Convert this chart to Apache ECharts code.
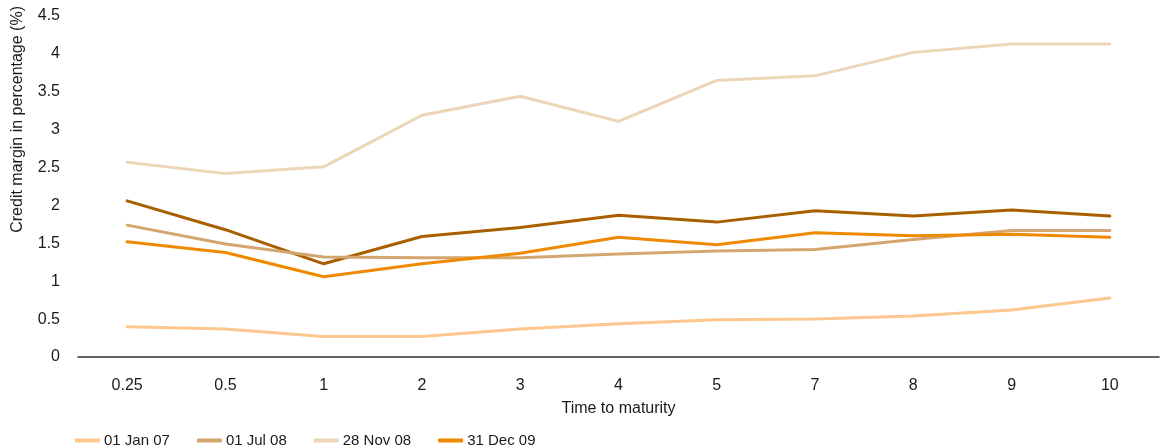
<!DOCTYPE html>
<html>
<head>
<meta charset="utf-8">
<script src="https://cdn.jsdelivr.net/npm/echarts@6/dist/echarts.min.js"></script>
<style>
  html, body { margin: 0; padding: 0; background: #fff; }
  #chart { width: 1160px; height: 447px; }
</style>
</head>
<body>
<div id="chart"></div>
<script>
// Time to maturity (years)
const maturities = ['0.25', '0.5', '1', '2', '3', '4', '5', '7', '8', '9', '10'];

// Credit margin (%) per curve date
const jan07 = [0.40, 0.37, 0.27, 0.27, 0.37, 0.44, 0.49, 0.50, 0.54, 0.62, 0.78];
const jul08 = [1.74, 1.49, 1.32, 1.31, 1.31, 1.36, 1.40, 1.42, 1.55, 1.67, 1.67];
const nov08 = [2.57, 2.42, 2.51, 3.19, 3.44, 3.11, 3.65, 3.71, 4.02, 4.13, 4.13];
const dec09 = [1.52, 1.38, 1.06, 1.23, 1.37, 1.58, 1.48, 1.64, 1.60, 1.62, 1.58];
const extraCurve = [2.06, 1.68, 1.23, 1.59, 1.71, 1.87, 1.78, 1.93, 1.86, 1.94, 1.86];

const yTicks = [0, 0.5, 1, 1.5, 2, 2.5, 3, 3.5, 4, 4.5];

const font = '"Liberation Sans", Arial, Helvetica, sans-serif';
const textColor = '#1a1a1a';

function line(name, data, color) {
  return {
    name: name,
    type: 'line',
    data: data,
    symbol: 'none',
    lineStyle: { width: 3, color: color, cap: 'round', join: 'round' },
    itemStyle: { color: color },
    animation: false
  };
}

const chart = echarts.init(document.getElementById('chart'), null, { renderer: 'canvas' });
chart.setOption({
  backgroundColor: '#fff',
  animation: false,
  grid: { left: 78, right: 1, top: 16, bottom: 90, containLabel: false },
  legend: {
    data: ['01 Jan 07', '01 Jul 08', '28 Nov 08', '31 Dec 09'],
    left: 70,
    top: 428,
    itemWidth: 25,
    itemHeight: 4,
    itemGap: 27,
    icon: 'roundRect',
    textStyle: { fontFamily: font, fontSize: 15, color: textColor, padding: [0, 0, 0, -1] }
  },
  xAxis: {
    type: 'category',
    data: maturities,
    boundaryGap: true,
    name: 'Time to maturity',
    nameLocation: 'middle',
    nameGap: 44,
    nameTextStyle: { fontFamily: font, fontSize: 16, color: textColor },
    axisLine: { show: true, lineStyle: { color: '#333', width: 1.5 } },
    axisTick: { show: false },
    axisLabel: { fontFamily: font, fontSize: 16, color: textColor, margin: 21 },
    splitLine: { show: false }
  },
  yAxis: {
    type: 'value',
    min: yTicks[0],
    max: yTicks[yTicks.length - 1],
    interval: 0.5,
    axisLine: { show: false },
    axisTick: { show: false },
    splitLine: { show: false },
    axisLabel: { fontFamily: font, fontSize: 16, color: textColor, margin: 18 }
  },
  graphic: [{
    type: 'text',
    left: 10,
    top: 6,
    rotation: Math.PI / 2,
    style: {
      text: 'Credit margin in percentage (%)',
      font: '16px ' + font,
      fill: textColor
    }
  }],
  series: [
    line('01 Jan 07', jan07, '#fdc78e'),
    line('Other', extraCurve, '#a95f00'),
    line('01 Jul 08', jul08, '#d4a66f'),
    line('28 Nov 08', nov08, '#ecd6b8'),
    line('31 Dec 09', dec09, '#ef8a00')
  ]
});
</script>
</body>
</html>
